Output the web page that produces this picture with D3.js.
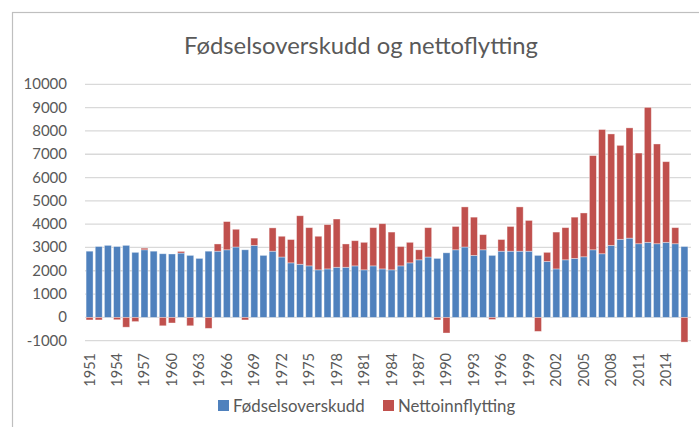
<html>
<head>
<meta charset="utf-8">
<script src="https://cdn.jsdelivr.net/npm/d3@7"></script>
<style>
  body { margin: 0; background: #fff; }
  text { font-family: Lato, "Open Sans", sans-serif; fill: #595959; }
</style>
<script>

    var years = d3.range(1951, 2017);

    var fodsel = [2840, 3040, 3090, 3040, 3090, 2790, 2900, 2840, 2730, 2720,
                  2760, 2660, 2530, 2840, 2840, 2900, 3020, 2900, 3090, 2660,
                  2840, 2590, 2340, 2280, 2210, 2040, 2080, 2150, 2150, 2210,
                  2040, 2210, 2080, 2040, 2210, 2340, 2470, 2590, 2530, 2770,
                  2900, 3020, 2660, 2900, 2660, 2840, 2840, 2840, 2840, 2660,
                  2400, 2080, 2470, 2530, 2600, 2900, 2730, 3090, 3350, 3400,
                  3160, 3220, 3160, 3220, 3160, 3040];

    var netto = [-110, -110, 0, -100, -420, -180, 70, 0, -360, -240,
                 70, -360, 0, -470, 310, 1210, 760, -110, 310, 0,
                 1000, 890, 1000, 2080, 1640, 1440, 1900, 2070, 1000, 1080,
                 1180, 1640, 1940, 1620, 830, 880, 430, 1260, -110, -670,
                 1000, 1720, 1640, 650, -90, 500, 1060, 1900, 1320, -600,
                 390, 1580, 1380, 1770, 1880, 4040, 5330, 4780, 4030, 4730,
                 3890, 5790, 4280, 3460, 690, -1060];

    var yTicks = [-1000, 0, 1000, 2000, 3000, 4000, 5000, 6000, 7000, 8000, 9000, 10000];

    var seriesNames = ["Fødselsoverskudd", "Nettoinnflytting"];
    var colors = ["#4f81bd", "#c0504d"];

window.onload = function(){

    var w = 699, h = 427;

    var svg = d3.select("body").append("svg")
        .attr("width", w)
        .attr("height", h);

    // chart border (cropped on the right)
    svg.append("rect")
        .attr("x", 12.5)
        .attr("y", 12.5)
        .attr("width", 700)
        .attr("height", 430)
        .style("fill", "none")
        .style("stroke", "#bfbfbf")
        .style("stroke-width", 1.2);

    svg.append("text")
        .attr("x", 361)
        .attr("y", 54)
        .attr("text-anchor", "middle")
        .attr("font-size", 23.8)
        .text("Fødselsoverskudd og nettoflytting");

    var x = d3.scaleBand()
        .domain(years)
        .range([85, 689])
        .paddingInner(0.24)
        .paddingOuter(0.12);

    var y = d3.scaleLinear()
        .domain([-1000, 10000])
        .range([340.7, 84.3]);

    // gridlines
    svg.append("g")
        .selectAll("line")
        .data(yTicks)
        .enter()
        .append("line")
        .attr("x1", 85)
        .attr("x2", 691)
        .attr("y1", function(d){ return y(d); })
        .attr("y2", function(d){ return y(d); })
        .style("stroke", "#d9d9d9")
        .style("stroke-width", 1.3);

    // y labels
    svg.append("g")
        .selectAll("text")
        .data(yTicks)
        .enter()
        .append("text")
        .attr("x", 67)
        .attr("y", function(d){ return y(d) + 5; })
        .attr("text-anchor", "end")
        .attr("font-size", 15)
        .text(function(d){ return d; });

    var table = years.map(function(yr, i){
        return {year: yr, f: fodsel[i], n: netto[i]};
    });

    var stacked = d3.stack()
        .keys(["f", "n"])
        .offset(d3.stackOffsetDiverging)(table);

    svg.append("g")
        .selectAll("g")
        .data(stacked)
        .enter()
        .append("g")
        .style("fill", function(d, i){ return colors[i]; })
        .selectAll("rect")
        .data(function(d){ return d; })
        .enter()
        .append("rect")
        .attr("x", function(d){ return x(d.data.year); })
        .attr("width", x.bandwidth())
        .attr("y", function(d){ return y(Math.max(d[0], d[1])); })
        .attr("height", function(d){ return Math.abs(y(d[0]) - y(d[1])); })
        .style("stroke", "#fff")
        .style("stroke-opacity", 0.45)
        .style("stroke-width", 0.8);

    // x labels every 3 years, rotated
    var xl = years.filter(function(d){ return (d - 1951) % 3 == 0; });
    svg.append("g")
        .selectAll("text")
        .data(xl)
        .enter()
        .append("text")
        .attr("transform", function(d){
            return "translate(" + (x(d) + x.bandwidth() / 2 + 5) + ",353) rotate(-90)";
        })
        .attr("text-anchor", "end")
        .attr("font-size", 14.5)
        .text(function(d){ return d; });

    // legend
    var lx = [218, 383];
    var leg = svg.append("g")
        .selectAll("g")
        .data(seriesNames)
        .enter()
        .append("g");
    leg.append("rect")
        .attr("x", function(d, i){ return lx[i]; })
        .attr("y", 400)
        .attr("width", 11)
        .attr("height", 11)
        .style("fill", function(d, i){ return colors[i]; });
    leg.append("text")
        .attr("x", function(d, i){ return lx[i] + 15; })
        .attr("y", 411.5)
        .attr("font-size", 16.8)
        .text(function(d){ return d; });
}
</script>
</head>
<body>
</body>
</html>
